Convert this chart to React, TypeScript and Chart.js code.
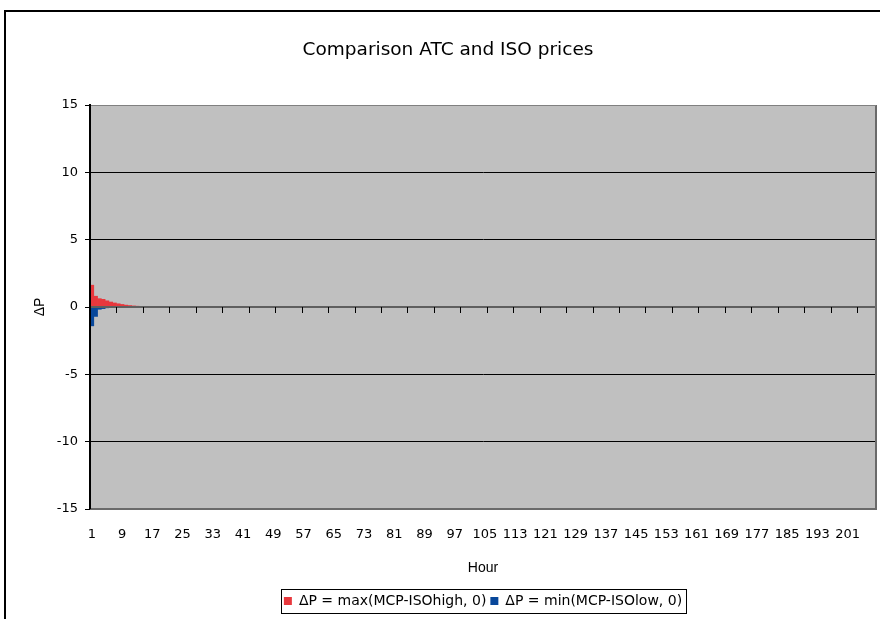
import React, { useEffect, useRef } from 'react';
import { Chart, registerables } from 'chart.js';

Chart.register(...registerables);

const TITLE = 'Comparison ATC and ISO prices';
const X_TITLE = 'Hour';
const Y_TITLE = 'ΔP';

const HOUR_COUNT = 208;
const hours: string[] = Array.from({ length: HOUR_COUNT }, (_, i) => String(i + 1));
const LABEL_EVERY = 8;
const TICK_MARK_EVERY = 7;

const Y_MIN = -15;
const Y_MAX = 15;
const Y_STEP = 5;

const SERIES_HIGH_LABEL = 'ΔP = max(MCP-ISOhigh, 0)';
const SERIES_LOW_LABEL = 'ΔP = min(MCP-ISOlow, 0)';

// Only the first hours are non-zero; all later hours are 0 (no bar drawn).
const highValues = [1.62, 0.8, 0.62, 0.57, 0.46, 0.37, 0.3, 0.24, 0.19, 0.14, 0.11, 0.08, 0.06, 0.05, 0.04, 0.03];
const lowValues = [-1.4, -0.7, -0.17, -0.12, -0.06];

const HIGH_COLOR = '#E8383D';
const LOW_COLOR = '#08479A';

const excelPlugin = {
  id: 'excelLook',
  beforeDraw(chart: any) {
    const { ctx, chartArea } = chart;
    const { left, right, top, bottom } = chartArea;
    ctx.save();
    ctx.fillStyle = '#C0C0C0';
    ctx.fillRect(left, top, right - left, bottom - top);
    ctx.strokeStyle = '#000';
    ctx.lineWidth = 2;
    ctx.strokeRect(5, 11, 1000, 1000);
    ctx.restore();
  },
  afterDatasetsDraw(chart: any) {
    const { ctx, chartArea, scales } = chart;
    const { left, right, top, bottom } = chartArea;
    const x = scales.x;
    const y = scales.y;
    ctx.save();
    const y0 = Math.round(y.getPixelForValue(0));
    // zero axis line
    ctx.strokeStyle = '#5f5f5f';
    ctx.lineWidth = 2;
    ctx.beginPath();
    ctx.moveTo(left, y0);
    ctx.lineTo(right, y0);
    ctx.stroke();
    // category tick marks
    ctx.strokeStyle = '#000';
    ctx.lineWidth = 1;
    for (let k = TICK_MARK_EVERY; k < HOUR_COUNT; k += TICK_MARK_EVERY) {
      const px = Math.round((x.getPixelForValue(k - 1) + x.getPixelForValue(k)) / 2) + 0.5;
      ctx.beginPath();
      ctx.moveTo(px, y0);
      ctx.lineTo(px, y0 + 6);
      ctx.stroke();
    }
    // right / top / bottom borders
    ctx.strokeStyle = '#6a6a6a';
    ctx.lineWidth = 2;
    ctx.beginPath();
    ctx.moveTo(right, top);
    ctx.lineTo(right, bottom);
    ctx.moveTo(left, bottom);
    ctx.lineTo(right + 1, bottom);
    ctx.stroke();
    ctx.strokeStyle = '#808080';
    ctx.lineWidth = 1;
    ctx.beginPath();
    ctx.moveTo(left, top + 0.5);
    ctx.lineTo(right, top + 0.5);
    ctx.stroke();
    // left axis line
    ctx.strokeStyle = '#000';
    ctx.lineWidth = 2;
    ctx.beginPath();
    ctx.moveTo(left, top);
    ctx.lineTo(left, bottom);
    ctx.stroke();
    ctx.restore();
  },
  afterDraw(chart: any) {
    const legend = chart.legend;
    if (!legend || !legend.legendHitBoxes || !legend.legendHitBoxes.length) return;
    const boxes = legend.legendHitBoxes;
    const first = boxes[0];
    const last = boxes[boxes.length - 1];
    const l = Math.round(first.left - 3) + 0.5;
    const r = Math.round(last.left + last.width + 4) + 0.5;
    const t = Math.round(first.top - 5) + 0.5;
    const b = Math.round(first.top + first.height + 5) + 0.5;
    const { ctx } = chart;
    ctx.save();
    ctx.strokeStyle = '#000';
    ctx.lineWidth = 1;
    ctx.strokeRect(l, t, r - l, b - t);
    ctx.restore();
  },
};

export default function App() {
  const ref = useRef<HTMLCanvasElement>(null);

  useEffect(() => {
    if (!ref.current) return;
    const chart = new Chart(ref.current, {
      type: 'bar',
      data: {
        labels: hours,
        datasets: [
          {
            label: SERIES_HIGH_LABEL,
            data: highValues,
            backgroundColor: HIGH_COLOR,
            borderWidth: 0,
            categoryPercentage: 1,
            barPercentage: 1,
          },
          {
            label: SERIES_LOW_LABEL,
            data: lowValues,
            backgroundColor: LOW_COLOR,
            borderWidth: 0,
            categoryPercentage: 1,
            barPercentage: 1,
          },
        ],
      },
      options: {
        animation: false,
        responsive: false,
        devicePixelRatio: 1,
        layout: { padding: { left: 20, right: 4, top: 0, bottom: 1 } },
        plugins: {
          title: {
            display: true,
            text: TITLE,
            color: '#000',
            font: { family: 'DejaVu Sans', size: 18.5, weight: 'normal' },
            padding: { top: 39, bottom: 43.8 },
          },
          legend: {
            display: true,
            position: 'bottom',
            fullSize: false,
            labels: {
              boxWidth: 8,
              boxHeight: 8,
              padding: 4,
              color: '#000',
              font: { family: 'DejaVu Sans', size: 14 },
            },
          },
          tooltip: { enabled: false },
        },
        scales: {
          x: {
            stacked: true,
            grid: { display: false, drawTicks: true, tickLength: 18 },
            border: { display: false },
            afterFit: (scale: any) => {
              scale.height = 81;
              scale.paddingRight = 0;
              scale.paddingLeft = 0;
            },
            ticks: {
              autoSkip: false,
              maxRotation: 0,
              minRotation: 0,
              padding: 0,
              color: '#000',
              font: { family: 'DejaVu Sans', size: 13 },
              callback: (_v: any, index: number) => (index % LABEL_EVERY === 0 ? hours[index] : ''),
            },
            title: {
              display: true,
              text: X_TITLE,
              color: '#000',
              font: { family: 'Liberation Sans', size: 14 },
              padding: { top: 0, bottom: 13 },
            },
          },
          y: {
            stacked: true,
            min: Y_MIN,
            max: Y_MAX,
            afterFit: (scale: any) => {
              scale.width = 70;
            },
            ticks: {
              stepSize: Y_STEP,
              padding: 7,
              color: '#000',
              font: { family: 'DejaVu Sans', size: 13 },
            },
            grid: {
              drawTicks: true,
              tickLength: 5,
              tickColor: '#000',
              color: (c: any) => {
                const v = c.tick ? c.tick.value : null;
                if (v === 0) return '#5f5f5f';
                if (v === Y_MIN || v === Y_MAX) return '#808080';
                return '#000';
              },
              lineWidth: 1,
            },
            border: { display: true, color: '#000', width: 2 },
            title: {
              display: true,
              text: Y_TITLE,
              color: '#000',
              font: { family: 'Liberation Sans', size: 14 },
              padding: { top: 12, bottom: 0 },
            },
          },
        },
      },
      plugins: [excelPlugin],
    } as any);
    return () => chart.destroy();
  }, []);

  return (
    <div style={{ position: 'absolute', left: 0, top: 0, width: 880, height: 619, background: '#fff' }}>
      <canvas ref={ref} width={880} height={619} style={{ display: 'block', width: 880, height: 619 }} />
    </div>
  );
}
